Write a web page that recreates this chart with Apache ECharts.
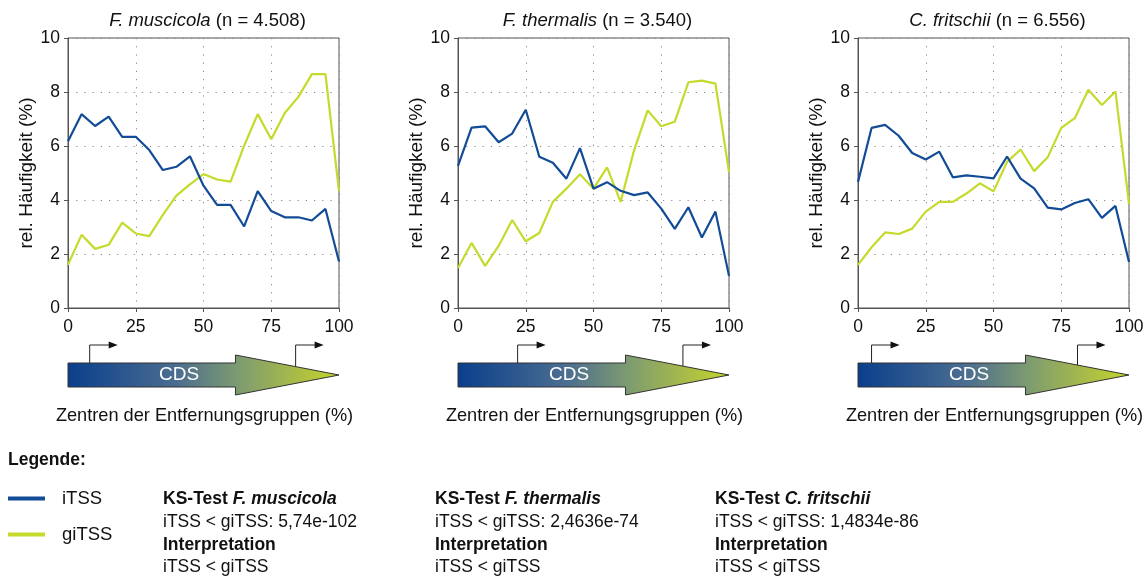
<!DOCTYPE html>
<html>
<head>
<meta charset="utf-8">
<script src="https://cdn.jsdelivr.net/npm/echarts@6/dist/echarts.min.js"></script>
<style>
html,body{margin:0;padding:0;background:#fff;}
#chart{width:1148px;height:576px;}
</style>
</head>
<body>
<div id="chart"></div>
<script>
// ---- data ----
const xCenters = [0,5,10,15,20,25,30,35,40,45,50,55,60,65,70,75,80,85,90,95,100];
const species = ['F. muscicola', 'F. thermalis', 'C. fritschii'];
const nValues = ['4.508', '3.540', '6.556'];
const itssMuscicola  = [6.18,7.18,6.74,7.09,6.34,6.34,5.85,5.11,5.23,5.62,4.53,3.82,3.82,3.02,4.33,3.59,3.36,3.36,3.24,3.67,1.72];
const gitssMuscicola = [1.60,2.71,2.19,2.34,3.16,2.76,2.66,3.45,4.16,4.58,4.96,4.76,4.68,6.01,7.18,6.25,7.22,7.82,8.66,8.66,4.33];
const itssThermalis  = [5.26,6.68,6.73,6.14,6.46,7.34,5.60,5.38,4.79,5.92,4.42,4.66,4.34,4.18,4.28,3.68,2.93,3.73,2.61,3.57,1.19];
const gitssThermalis = [1.48,2.41,1.56,2.30,3.26,2.47,2.78,3.93,4.42,4.95,4.42,5.21,3.93,5.85,7.32,6.73,6.90,8.36,8.42,8.31,5.03];
const itssFritschii  = [4.67,6.67,6.78,6.38,5.74,5.50,5.79,4.84,4.91,4.86,4.80,5.61,4.79,4.43,3.72,3.65,3.89,4.03,3.34,3.78,1.70];
const gitssFritschii = [1.60,2.25,2.80,2.74,2.94,3.57,3.93,3.93,4.24,4.62,4.32,5.41,5.87,5.07,5.58,6.67,7.03,8.08,7.52,8.02,3.85];
const ksPValues = ['5,74e-102', '2,4636e-74', '1,4834e-86'];
const tssPositions = [[8, 84], [22, 83], [5, 81]];
const seriesNames = ['iTSS', 'giTSS'];

// ---- styles ----
const FONT = '"Liberation Sans", Arial, sans-serif';
const FS = 17.5;
const FL = 18.5;
const BLUE = '#124b96';
const GREEN = '#c6da2c';
const gridLefts = [68, 458, 858];
const gridWidth = 271, gridTop = 38, gridHeight = 270;
const panelValues = [
  [itssMuscicola, gitssMuscicola],
  [itssThermalis, gitssThermalis],
  [itssFritschii, gitssFritschii]
];

const chart = echarts.init(document.getElementById('chart'), null, {renderer: 'canvas'});

const grids = [], xAxes = [], yAxes = [], series = [], titles = [];
for (let i = 0; i < 3; i++) {
  grids.push({left: gridLefts[i], top: gridTop, width: gridWidth, height: gridHeight,
    show: true, borderColor: '#555', borderWidth: 1, backgroundColor: 'transparent'});
  xAxes.push({
    type: 'value', gridIndex: i, min: 0, max: 100, interval: 25,
    axisLine: {show: true, lineStyle: {color: '#555', width: 1}},
    axisTick: {show: true, length: 4, lineStyle: {color: '#555'}},
    axisLabel: {color: '#111', fontSize: FS, fontFamily: FONT, margin: 10},
    splitLine: {show: true, lineStyle: {color: '#888', type: [1.2, 7], width: 1}}
  });
  yAxes.push({
    type: 'value', gridIndex: i, min: 0, max: 10, interval: 2,
    name: 'rel. Häufigkeit (%)', nameLocation: 'middle', nameGap: 31,
    nameTextStyle: {color: '#111', fontSize: 19, fontFamily: FONT},
    axisLine: {show: true, lineStyle: {color: '#555', width: 1}},
    axisTick: {show: true, length: 4, lineStyle: {color: '#555'}},
    axisLabel: {color: '#111', fontSize: FS, fontFamily: FONT, margin: 8},
    splitLine: {show: true, lineStyle: {color: '#888', type: [1.2, 7], width: 1}}
  });
  const colors = [BLUE, GREEN];
  for (let s = 0; s < 2; s++) {
    series.push({
      type: 'line', name: seriesNames[s], xAxisIndex: i, yAxisIndex: i,
      data: xCenters.map((x, k) => [x, panelValues[i][s][k]]),
      symbol: 'none', smooth: false, z: s === 0 ? 3 : 2,
      lineStyle: {color: colors[s], width: 2.2}, itemStyle: {color: colors[s]}
    });
  }
  titles.push({
    text: '{i|' + species[i] + '} (n = ' + nValues[i] + ')',
    left: gridLefts[i] + gridWidth / 2 - 1, top: 6, textAlign: 'center',
    textStyle: {fontSize: FL, fontFamily: FONT, fontWeight: 'normal', color: '#111',
      rich: {i: {fontStyle: 'italic', fontSize: FL, fontFamily: FONT, color: '#111'}}}
  });
}

chart.setOption({
  animation: false,
  backgroundColor: '#fff',
  title: titles,
  grid: grids, xAxis: xAxes, yAxis: yAxes, series: series,
  legend: {
    data: seriesNames, orient: 'vertical', left: 8, top: 489, padding: 0,
    icon: 'rect', itemWidth: 37, itemHeight: 4, itemGap: 17,
    textStyle: {fontSize: FL, fontFamily: FONT, color: '#111', padding: [0, 0, 0, 12]}
  }
});

// ---- decorations (CDS arrows, TSS marks, texts) ----
function buildGraphics() {
  const g = [];
  const bodyTop = 363, bodyBot = 387, headTop = 355, headBot = 395, midY = 375;
  for (let i = 0; i < 3; i++) {
    const x0 = chart.convertToPixel({xAxisIndex: i}, 0);
    const x1 = chart.convertToPixel({xAxisIndex: i}, 100);
    const w = x1 - x0;
    const hx = x0 + w * 0.618;
    // TSS bent arrows (behind CDS arrow)
    tssPositions[i].forEach(p => {
      const tx = chart.convertToPixel({xAxisIndex: i}, p);
      g.push({type: 'polyline', z: 1, shape: {points: [[tx, midY], [tx, 345], [tx + 20, 345]]},
        style: {stroke: '#222', lineWidth: 1, fill: null}});
      g.push({type: 'polygon', z: 1, shape: {points: [[tx + 19, 341.5], [tx + 28, 345], [tx + 19, 348.5]]},
        style: {fill: '#111'}});
    });
    g.push({
      type: 'polygon', z: 5,
      shape: {points: [[x0, bodyTop], [hx, bodyTop], [hx, headTop], [x1, midY], [hx, headBot], [hx, bodyBot], [x0, bodyBot]]},
      style: {
        fill: new echarts.graphic.LinearGradient(0, 0, 1, 0, [
          {offset: 0, color: '#0a3f8c'},
          {offset: 0.4, color: '#4b6d90'},
          {offset: 0.62, color: '#7c9a72'},
          {offset: 0.85, color: '#aabd46'},
          {offset: 1, color: '#c6d42a'}
        ]),
        stroke: '#333', lineWidth: 1
      }
    });
    g.push({type: 'text', z: 6, x: x0 + w * 0.41, y: midY,
      style: {text: 'CDS', fill: '#fff', font: '19px ' + FONT, align: 'center', verticalAlign: 'middle'}});
    g.push({type: 'text', z: 6, x: x0 + w / 2 + 1, y: 416,
      style: {text: 'Zentren der Entfernungsgruppen (%)', fill: '#111', font: '18.2px ' + FONT, align: 'center', verticalAlign: 'middle'}});
  }
  g.push({type: 'text', x: 8, y: 460,
    style: {text: 'Legende:', fill: '#111', font: 'bold ' + FS + 'px ' + FONT, align: 'left', verticalAlign: 'middle'}});
  const ksX = [163, 435, 715];
  for (let i = 0; i < 3; i++) {
    g.push({type: 'text', x: ksX[i], y: 488,
      style: {
        text: '{b|KS-Test }{bi|' + species[i] + '}\n{n|iTSS < giTSS: ' + ksPValues[i] + '}\n{b|Interpretation}\n{n|iTSS < giTSS}',
        fill: '#111', font: FS + 'px ' + FONT, align: 'left', verticalAlign: 'top', lineHeight: 22.7,
        rich: {
          b: {fontWeight: 'bold', fontSize: FS, fontFamily: FONT, lineHeight: 22.7, fill: '#111'},
          bi: {fontWeight: 'bold', fontStyle: 'italic', fontSize: FS, fontFamily: FONT, lineHeight: 22.7, fill: '#111'},
          n: {fontSize: FS, fontFamily: FONT, lineHeight: 22.7, fill: '#111'}
        }
      }});
  }
  chart.setOption({graphic: g});
}
buildGraphics();
</script>
</body>
</html>
